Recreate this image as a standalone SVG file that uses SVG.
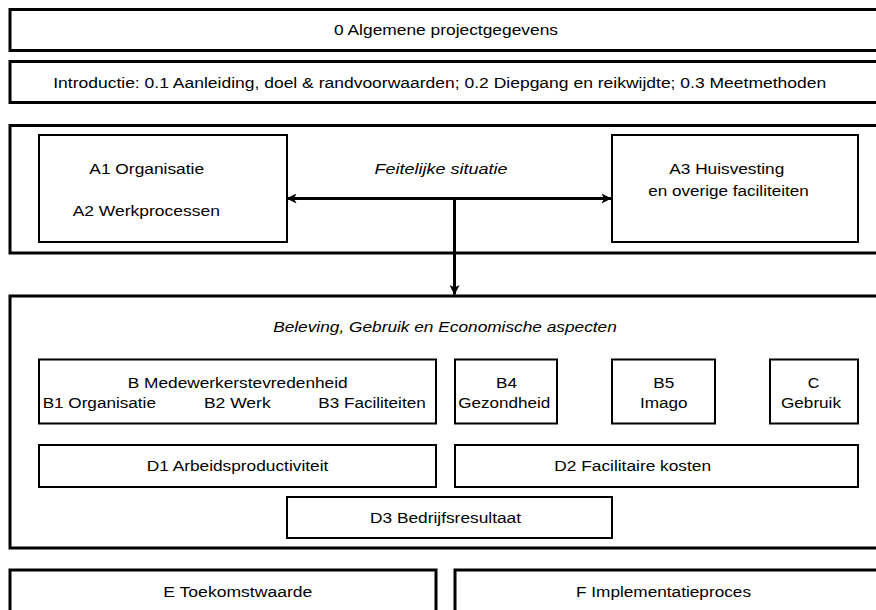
<svg xmlns="http://www.w3.org/2000/svg" width="876" height="610" viewBox="0 0 876 610">
<defs>
<style>
.outer{fill:none;stroke:#000;stroke-width:3}
.inner{fill:none;stroke:#000;stroke-width:2}
text{font-family:"Liberation Sans",Arial,sans-serif;font-size:15.5px;fill:#000;text-anchor:middle}
.it{font-style:italic}
.conn{stroke:#000;stroke-width:3;fill:none}
</style>
<marker id="ah" viewBox="0 0 10 10" refX="9.5" refY="5" markerWidth="10" markerHeight="10" markerUnits="userSpaceOnUse" orient="auto-start-reverse">
<path d="M0,0 L10,5 L0,10 L2.5,5 Z" fill="#000"/>
</marker>
</defs>
<rect x="0" y="0" width="876" height="610" fill="#fff"/>

<g id="n0">
<rect class="outer" x="10" y="9.5" width="880" height="41"/>
<text x="446" y="35" textLength="224" lengthAdjust="spacingAndGlyphs">0 Algemene projectgegevens</text>
</g>
<g id="intro">
<rect class="outer" x="10" y="61.5" width="880" height="41"/>
<text x="439.7" y="87.5" textLength="773" lengthAdjust="spacingAndGlyphs">Introductie: 0.1 Aanleiding, doel &amp; randvoorwaarden; 0.2 Diepgang en reikwijdte; 0.3 Meetmethoden</text>
</g>
<g id="A">
<rect class="outer" x="10" y="125.5" width="880" height="127.5"/>
<text class="it" x="441" y="173.5" textLength="133" lengthAdjust="spacingAndGlyphs">Feitelijke situatie</text>
</g>
<g id="A12">
<rect class="inner" x="39" y="135" width="248" height="107"/>
<text x="146.7" y="173.5" textLength="114.7" lengthAdjust="spacingAndGlyphs">A1 Organisatie</text>
<text x="146.3" y="215.5" textLength="147.3" lengthAdjust="spacingAndGlyphs">A2 Werkprocessen</text>
</g>
<g id="A3">
<rect class="inner" x="612" y="135" width="246" height="107"/>
<text x="726.8" y="173.5" textLength="115" lengthAdjust="spacingAndGlyphs">A3 Huisvesting</text>
<text x="728.5" y="195.5" textLength="160.4" lengthAdjust="spacingAndGlyphs">en overige faciliteiten</text>
</g>
<g id="BCD">
<rect class="outer" x="10" y="296" width="880" height="252"/>
<text class="it" x="445" y="331.7" textLength="343.7" lengthAdjust="spacingAndGlyphs">Beleving, Gebruik en Economische aspecten</text>
</g>
<g id="B">
<rect class="inner" x="39" y="359.5" width="397" height="64"/>
<text x="237.7" y="388" textLength="220" lengthAdjust="spacingAndGlyphs">B Medewerkerstevredenheid</text>
<text x="99.3" y="407.7" textLength="113.3" lengthAdjust="spacingAndGlyphs">B1 Organisatie</text>
<text x="237.3" y="407.7" textLength="66.7" lengthAdjust="spacingAndGlyphs">B2 Werk</text>
<text x="372" y="407.7" textLength="107.4" lengthAdjust="spacingAndGlyphs">B3 Faciliteiten</text>
</g>
<g id="B4">
<rect class="inner" x="455" y="359.5" width="102" height="64"/>
<text x="506.5" y="388" textLength="21" lengthAdjust="spacingAndGlyphs">B4</text>
<text x="504.3" y="407.7" textLength="92" lengthAdjust="spacingAndGlyphs">Gezondheid</text>
</g>
<g id="B5">
<rect class="inner" x="612" y="359.5" width="103" height="64"/>
<text x="663.8" y="388" textLength="21" lengthAdjust="spacingAndGlyphs">B5</text>
<text x="663.8" y="407.7" textLength="47.7" lengthAdjust="spacingAndGlyphs">Imago</text>
</g>
<g id="C">
<rect class="inner" x="770" y="359.5" width="88" height="64"/>
<text x="813.5" y="388" textLength="11.6" lengthAdjust="spacingAndGlyphs">C</text>
<text x="811" y="407.7" textLength="60" lengthAdjust="spacingAndGlyphs">Gebruik</text>
</g>
<g id="D1">
<rect class="inner" x="39" y="445" width="397" height="42"/>
<text x="237.5" y="470.7" textLength="181.6" lengthAdjust="spacingAndGlyphs">D1 Arbeidsproductiviteit</text>
</g>
<g id="D2">
<rect class="inner" x="455" y="445" width="403" height="42"/>
<text x="632.7" y="470.7" textLength="156.7" lengthAdjust="spacingAndGlyphs">D2 Facilitaire kosten</text>
</g>
<g id="D3">
<rect class="inner" x="287" y="497" width="325" height="41"/>
<text x="445.5" y="523.3" textLength="151" lengthAdjust="spacingAndGlyphs">D3 Bedrijfsresultaat</text>
</g>
<g id="E">
<rect class="outer" x="10" y="570" width="426" height="60"/>
<text x="237.8" y="596.7" textLength="149" lengthAdjust="spacingAndGlyphs">E Toekomstwaarde</text>
</g>
<g id="F">
<rect class="outer" x="455" y="570" width="440" height="60"/>
<text x="663.5" y="596.7" textLength="175" lengthAdjust="spacingAndGlyphs">F Implementatieproces</text>
</g>

<g id="connectors">
<line class="conn" x1="287" y1="198.5" x2="611" y2="198.5" marker-start="url(#ah)" marker-end="url(#ah)"/>
<line class="conn" x1="454.5" y1="198.5" x2="454.5" y2="294.5" marker-end="url(#ah)"/>
</g>
</svg>
